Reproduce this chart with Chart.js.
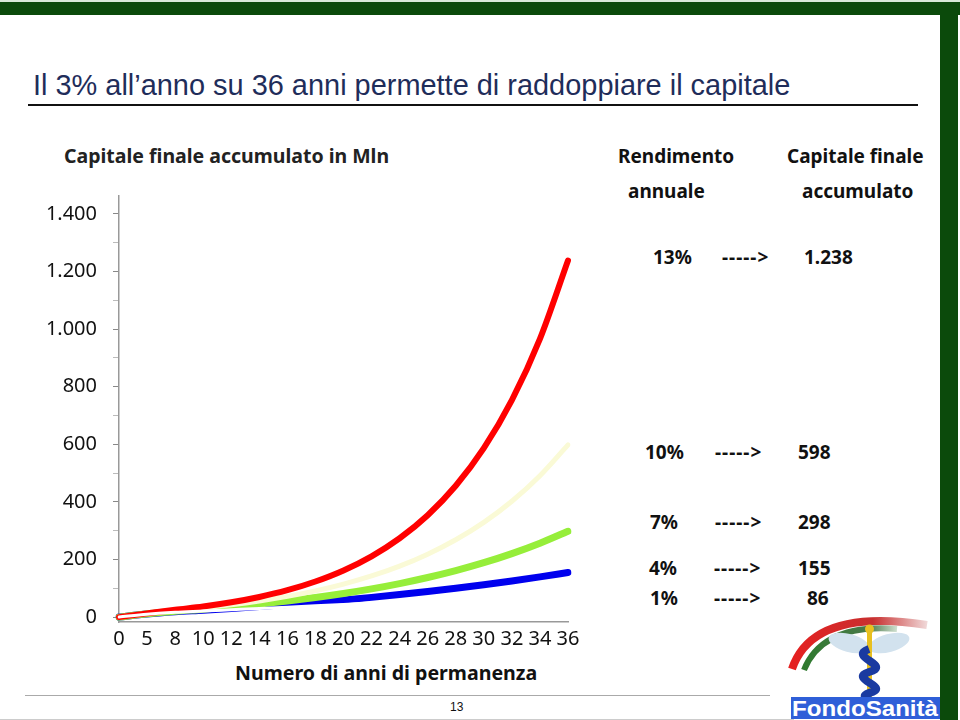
<!DOCTYPE html>
<html>
<head>
<meta charset="utf-8">
<script src="https://cdn.jsdelivr.net/npm/chart.js@4.4.1/dist/chart.umd.min.js"></script>
<style>
  body { margin: 0; background: #fff; }
  #slide { position: relative; width: 960px; height: 720px; overflow: hidden; background: #fff; font-family: "Noto Sans", sans-serif; }
  .abs { position: absolute; white-space: nowrap; }
  .t { color: #111; font-weight: bold; font-size: 19px; line-height: 1; transform: translateY(-50%); }
</style>
</head>
<body>
<div id="slide">
  <!-- frame -->
  <div class="abs" style="left:0;top:0;width:960px;height:2px;background:#d9ead9"></div>
  <div class="abs" style="left:0;top:2px;width:960px;height:13px;background:#0b4a0b"></div>
  <div class="abs" style="left:940px;top:2px;width:18px;height:718px;background:#0b4a0b"></div>

  <div class="abs" id="title" style="left:33px;top:68px;font-family:'Liberation Sans',sans-serif;font-size:29px;color:#1f2d5a;line-height:34px;transform-origin:0 0">Il 3% all’anno su 36 anni permette di raddoppiare il capitale</div>
  <div class="abs" style="left:28px;top:104px;width:890px;height:2px;background:#111"></div>

  <div class="abs t" style="left:64px;top:156px;color:#222;font-size:19.5px">Capitale finale accumulato in Mln</div>
  <div class="abs t" style="left:235px;top:673px;font-size:19.6px">Numero di anni di permanenza</div>

  <div class="abs t" style="left:618px;top:156px">Rendimento</div>
  <div class="abs t" style="left:787px;top:156px">Capitale finale</div>
  <div class="abs t" style="left:628px;top:191px">annuale</div>
  <div class="abs t" style="left:802px;top:191px">accumulato</div>
  <div id="rows"></div>

  <canvas id="chart" class="abs" width="600" height="482" style="left:0;top:168px"></canvas>

  <!-- footer -->
  <div class="abs" style="left:25px;top:695px;width:745px;height:1px;background:#aaa"></div>
  <div class="abs" style="left:0;top:719px;width:794px;height:1px;background:#ccc"></div>
  <div class="abs" style="left:450px;top:700px;font-family:'Liberation Sans',sans-serif;font-size:12px;color:#111">13</div>

  <!-- logo -->
  <svg class="abs" style="left:785px;top:605px" width="155" height="115" viewBox="0 0 155 115">
    <defs>
      <linearGradient id="gr" x1="0" x2="1"><stop offset="0" stop-color="#e52020"/><stop offset="0.6" stop-color="#c83030"/><stop offset="1" stop-color="#f0d8d8"/></linearGradient>
      <linearGradient id="gg" x1="0" x2="1"><stop offset="0" stop-color="#2f7a2f"/><stop offset="0.7" stop-color="#4a7a4a"/><stop offset="1" stop-color="#d0e0d0"/></linearGradient>
    </defs>
    <path d="M7 64 Q28 2 142 20" fill="none" stroke="url(#gr)" stroke-width="8"/>
    <path d="M19 65 Q38 18 112 24" fill="none" stroke="url(#gg)" stroke-width="6"/>
    <ellipse cx="64" cy="38" rx="21" ry="9" fill="#d2e2ee" transform="rotate(15 64 38)"/>
    <ellipse cx="104" cy="38" rx="21" ry="9" fill="#d2e2ee" transform="rotate(-15 104 38)"/>
    <rect x="82" y="22" width="5" height="70" fill="#e8c020"/>
    <circle cx="84.5" cy="24" r="4.5" fill="#e8c020"/>
    <path d="M84 44 C62 52 108 60 84 67 C62 74 108 82 84 88 C70 93 96 96 84 100" fill="none" stroke="#1a3aa0" stroke-width="8"/>
    <rect x="6" y="92" width="149" height="22" fill="#2f5fd8"/>
    <text x="7" y="111" fill="#fff" font-family="Liberation Sans, sans-serif" font-weight="bold" font-size="22" textLength="146" lengthAdjust="spacingAndGlyphs">FondoSanità</text>
  </svg>
</div>

<script>
// anni di permanenza (asse x)
const years = ['0', '5', '8', '10', '12', '14', '16', '18', '20', '22', '24', '26', '28', '30', '32', '34', '36']

// capitale accumulato in Mln per rendimento
const r13 = [0, 13, 25.5, 36.8, 51.3, 69.8, 93.3, 123.5, 161.9, 211, 273.7, 353.7, 455.9, 586.4, 753, 965.8, 1238]
const r10 = [0, 12.2, 22.9, 31.9, 42.8, 56, 71.9, 91.2, 114.6, 142.8, 177, 218.4, 268.4, 329, 402.3, 491, 598]
const r7 = [0, 11.5, 20.5, 27.6, 35.8, 45.1, 55.8, 68, 82, 98, 116.4, 137.4, 161.4, 188.9, 220.4, 256.5, 298]
const r4 = [0, 10.8, 18.4, 24, 30.1, 36.6, 43.7, 51.3, 59.6, 68.5, 78.2, 88.6, 99.9, 112.2, 125.4, 139.7, 155]
const r1 = [0, 10.2, 16.6, 20.9, 25.4, 29.9, 34.5, 39.2, 44, 48.9, 54, 59.1, 64.3, 69.6, 75, 80.5, 86]

// tabella a destra
const rates = ['13%', '10%', '7%', '4%', '1%']
const finals = [1238, 598, 298, 155, 86]

const yTicks = [0, 100, 200, 300, 400, 500, 600, 700, 800, 900, 1000, 1100, 1200, 1300, 1400]

function fmt(v) {
    if (v >= 1000) return Math.floor(v / 1000) + '.' + String(v % 1000).padStart(3, '0')
    return String(v)
}

// titolo un po' stretto come nell'originale
const title = document.getElementById('title')
title.style.transform = 'scaleX(' + (757 / title.offsetWidth) + ')'

// righe della tabella
const rowPos = [
    { y: 257, a: 653, b: 722, c: 804 },
    { y: 452, a: 645, b: 715, c: 798 },
    { y: 522, a: 650, b: 715, c: 798 },
    { y: 568, a: 649, b: 714, c: 798 },
    { y: 598, a: 650, b: 714, c: 807 }
]
const rows = document.getElementById('rows')
rates.forEach(function (r, i) {
    const p = rowPos[i]
    rows.innerHTML +=
        '<div class="abs t" style="left:' + p.a + 'px;top:' + p.y + 'px">' + r + '</div>' +
        '<div class="abs t" style="left:' + p.b + 'px;top:' + p.y + 'px;letter-spacing:1px">-----&gt;</div>' +
        '<div class="abs t" style="left:' + p.c + 'px;top:' + p.y + 'px">' + fmt(finals[i]) + '</div>'
})

const font = { family: 'Noto Sans', size: 20 }

function line(data, color, width) {
    return {
        data: data,
        borderColor: color,
        borderWidth: width,
        pointRadius: 0,
        cubicInterpolationMode: 'monotone',
        borderCapStyle: 'round',
        borderJoinStyle: 'round',
        fill: false
    }
}

new Chart(document.getElementById('chart'), {
    type: 'line',
    data: {
        labels: years,
        datasets: [
            line(r1, '#ffffff', 3),
            line(r13, '#ff0000', 6),
            line(r10, '#fafad6', 5),
            line(r7, '#96ee3a', 7),
            line(r4, '#0000ee', 7)
        ]
    },
    options: {
        responsive: false,
        animation: false,
        layout: { padding: { top: 3, right: 32, left: 0, bottom: 0 } },
        plugins: { legend: { display: false }, tooltip: { enabled: false } },
        scales: {
            x: {
                offset: false,
                grid: { display: true, drawOnChartArea: false, drawTicks: false },
                border: { display: true, color: '#999', width: 1.5 },
                ticks: { font: font, color: '#111', padding: 5, autoSkip: false, maxRotation: 0 },
                afterFit: function (s) { s.height = 28 }
            },
            y: {
                min: -17,
                max: 1462,
                afterBuildTicks: function (s) { s.ticks = yTicks.map(function (v) { return { value: v } }) },
                grid: {
                    drawOnChartArea: false,
                    tickLength: 6,
                    tickColor: function (c) { return c.tick && c.tick.value % 200 ? '#bbb' : '#888' }
                },
                border: { display: true, color: '#999', width: 1.5 },
                ticks: {
                    font: font,
                    color: '#111',
                    padding: 16,
                    callback: function (v) { return v % 200 ? '' : fmt(v) }
                },
                afterFit: function (s) { s.width = 119 }
            }
        }
    }
})
</script>
</body>
</html>
